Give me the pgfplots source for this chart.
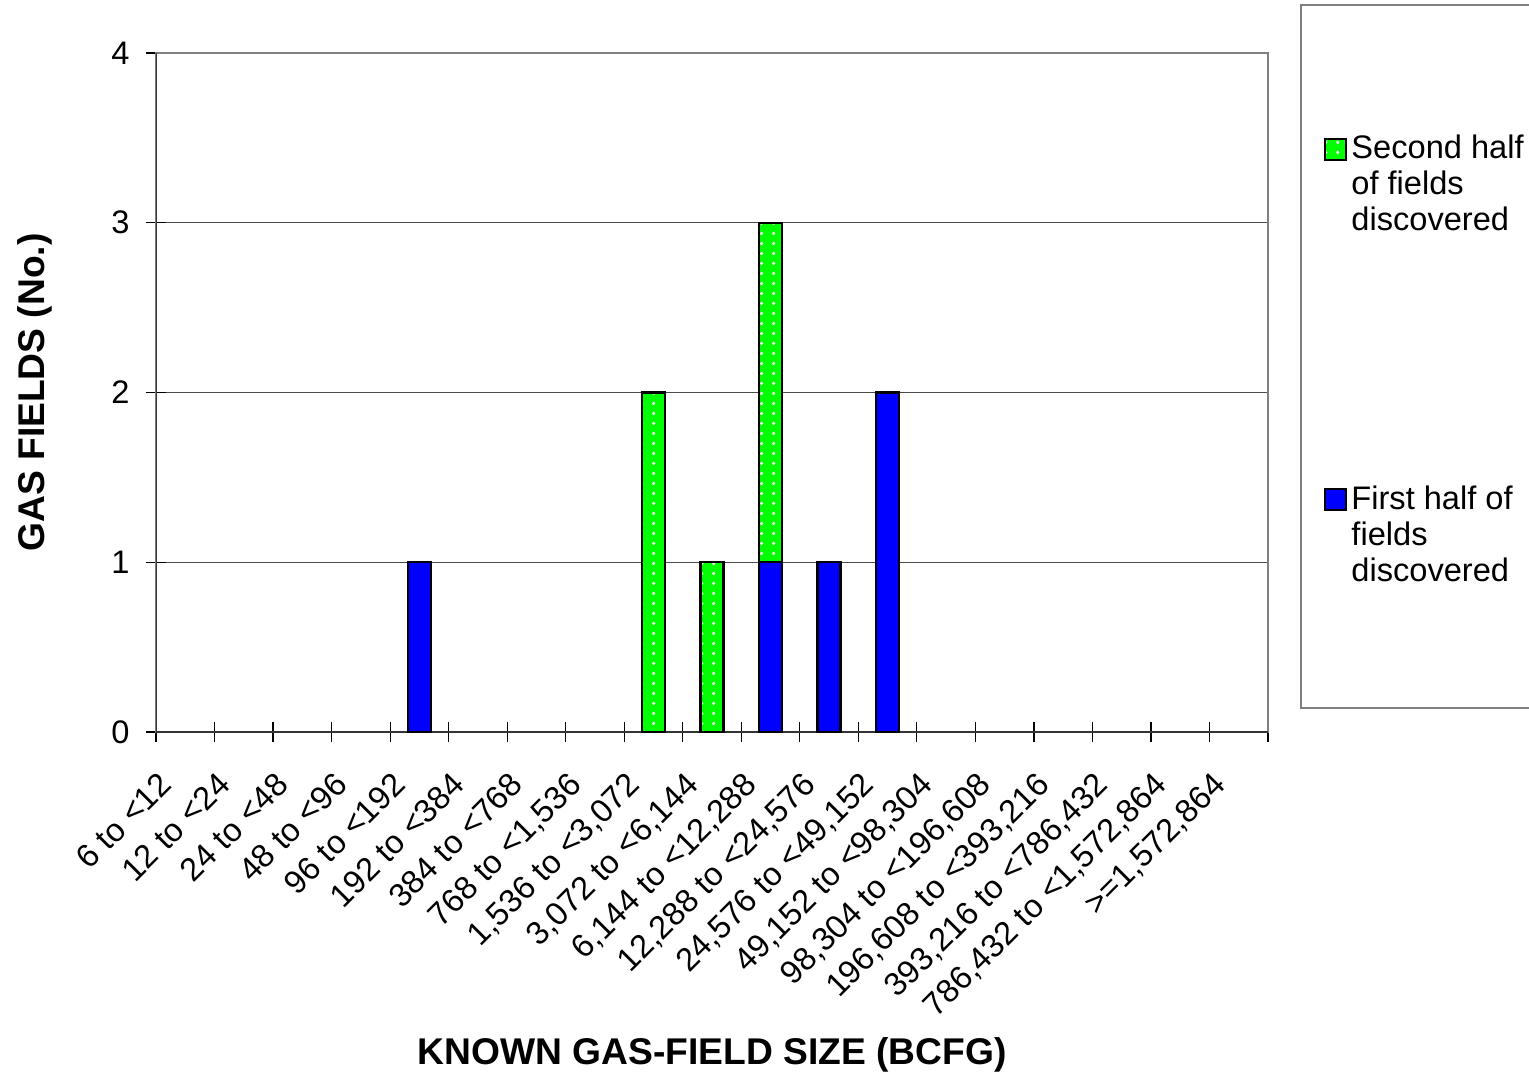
\documentclass[border=0pt]{standalone}
\usepackage{fontspec}
\setmainfont{Liberation Sans}
\usepackage{pgfplots}
\usepackage{pgfplotstable}
\pgfplotsset{compat=1.18}
\usetikzlibrary{patterns.meta}
\tikzdeclarepattern{
  name=wdots,
  type=uncolored,
  bottom left={(0pt,0pt)},
  top right={(6pt,5pt)},
  tile size={(6pt,5pt)},
  code={\fill (3pt,2.5pt) circle (0.95pt);}
}
\definecolor{barblue}{RGB}{0,0,255}
\definecolor{bargreen}{RGB}{0,255,0}
\definecolor{framegray}{RGB}{128,128,128}
\pgfplotstableread{
x first second
4.5 1 0
8.5 0 2
9.5 0 1
10.5 1 2
11.5 1 0
12.5 2 0
}\datatable
\begin{document}
\begin{tikzpicture}
\useasboundingbox (0,0) rectangle (764.5pt,538.5pt);
\draw[framegray, line width=1pt] (650.5pt,184.5pt) rectangle (820pt,536pt);
\begin{axis}[
  at={(78pt,172.5pt)}, anchor=south west,
  scale only axis, width=556pt, height=339.5pt,
  xmin=0, xmax=19, ymin=0, ymax=4,
  ybar stacked, bar width=11.5pt,
  axis line style={draw=framegray, line width=1pt},
  ymajorgrids, grid style={black!70, line width=0.6pt},
  ytick={0,1,2,3,4},
  xtick pos=bottom, ytick pos=left,
  tick align=center, major tick length=10pt,
  tick style={black, line width=0.6pt},
  xtick={0,1,...,19}, xticklabels={,,,,,,,,,,,,,,,,,,,},
  extra x ticks={0.5,1.5,...,18.5},
  extra x tick labels={6 to <12,12 to <24,24 to <48,48 to <96,96 to <192,192 to <384,384 to <768,{768 to <1,536},{1,536 to <3,072},{3,072 to <6,144},{6,144 to <12,288},{12,288 to <24,576},{24,576 to <49,152},{49,152 to <98,304},{98,304 to <196,608},{196,608 to <393,216},{393,216 to <786,432},{786,432 to <1,572,864},{>=1,572,864}},
  extra x tick style={major tick length=0pt, grid=none},
  /pgf/number format/assume math mode=true,
  ticklabel style={font=\fontsize{16.3}{18}\selectfont},
  xticklabel style={xshift=-14pt, yshift=-19pt, rotate=45, anchor=north east, inner sep=0pt},
  yticklabel style={inner sep=0pt, xshift=-8pt},
  xlabel={KNOWN GAS-FIELD SIZE (BCFG)},
  ylabel={GAS FIELDS (No.)},
  label style={font=\fontsize{18.6}{20}\selectfont\bfseries},
  xlabel style={at={(axis description cs:0.5,-0.4757)}, anchor=center},
  ylabel style={at={(axis description cs:-0.1088,0.5)}, anchor=center},
  reverse legend,
  legend style={at={(axis description cs:1.0504,0.8852)}, anchor=north west, draw=none, fill=none, inner sep=0pt, row sep=157.8pt, column sep=0pt, font=\fontsize{16.3}{18}\selectfont, cells={anchor=base west, inner sep=0pt}},
  legend image code/.code={\draw[#1, line width=1pt] (0pt,-0.5pt) rectangle (10.5pt,10pt);},
]
\addplot[fill=barblue, draw=black, line width=1.2pt] table[x=x, y=first] \datatable;
\addlegendentry{\vtop{\hbox{First half of}\hbox{fields}\hbox{discovered}}}
\addplot[fill=bargreen, draw=black, line width=1.2pt, postaction={pattern=wdots, pattern color=white}] table[x=x, y=second] \datatable;
\addlegendentry{\vtop{\hbox{Second half}\hbox{of fields}\hbox{discovered}}}
\draw[black!80, line width=0.9pt] (rel axis cs:0,0) -- (rel axis cs:0,1);
\draw[black!80, line width=0.9pt] (rel axis cs:0,0) -- (rel axis cs:1,0);
\end{axis}
\end{tikzpicture}
\end{document}
